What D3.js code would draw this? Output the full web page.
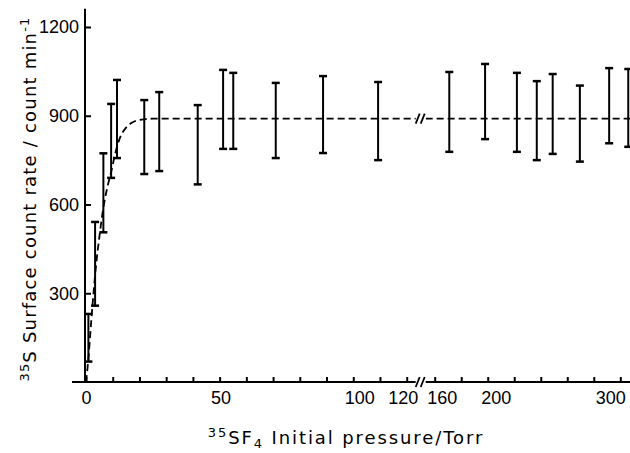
<!DOCTYPE html>
<html><head><meta charset="utf-8">
<script src="https://cdn.jsdelivr.net/npm/d3@7"></script>
<style>
body{margin:0;background:#fff}
svg{display:block}
text{fill:#000}
</style>
</head><body>
<svg id="chart" width="630" height="453"></svg>
<script>
// ---- data ----
const pressure  = [0.9, 3.4, 6.5, 9.4, 11.6, 21.8, 27.4, 41.8, 51.3, 55.1, 71, 88.7, 109.3, 171, 198, 222, 237, 249, 269.5, 291.6, 306];
const countLow  = [69, 258, 506, 690, 757, 703, 713, 668, 788, 788, 757, 774, 750, 778, 821, 778, 750, 771, 745, 807, 795];
const countHigh = [230, 541, 773, 940, 1021, 953, 980, 936, 1055, 1045, 1011, 1034, 1014, 1048, 1075, 1045, 1017, 1041, 1002, 1061, 1058];
const fitPressure = [0, 1, 1.5, 2, 3, 3.6, 5, 6, 7.1, 8.3, 9.6, 11, 12.7, 15, 17.5, 20.2, 25, 310];
const fitCount    = [0, 90, 150, 210, 320, 380, 490, 560, 620, 670, 717, 775, 825, 860, 878, 886, 890, 890];
const xTickValues = [0,10,20,30,40,50,60,70,80,90,100,110,120,160,180,200,220,240,260,280,300];
const xTickLabels = ["0","50","100","120","160","200","300"];
const yTickValues = [300,600,900,1200];
const xBreak = [120,160];

const svg = d3.select("#chart");
const W = 630;
const numFont = "'Liberation Sans', Arial, sans-serif";
const titleFont = "'DejaVu Sans', sans-serif";
const x = d3.scaleLinear().domain([0, xBreak[0], xBreak[1], 300]).range([86, 406.7, 434.7, 620.3]);
const y = d3.scaleLinear().domain([0, 1200]).range([382, 27]);
const x0 = x(0), yBase = y(0);

// hand-lettered label offsets in the original figure
const labelNudge = {50: 1, 100: 6, 120: -4, 160: 7, 200: 8, 300: -10};

// x axis
const xAxis = d3.axisBottom(x).tickValues(xTickValues).tickSize(-5).tickPadding(9)
  .tickFormat(d => xTickLabels.includes(String(d)) ? String(d) : "");
const gx = svg.append("g").attr("transform", `translate(0,${yBase})`).call(xAxis);
gx.select(".domain").remove();
gx.selectAll(".tick line").attr("stroke","#000").attr("stroke-width",2);
gx.selectAll(".tick text").style("font-size","18px").style("font-family",numFont)
  .attr("dx", d => labelNudge[d] || 0);
svg.append("line").attr("x1", x0 - 14).attr("x2", W).attr("y1", yBase).attr("y2", yBase)
  .attr("stroke","#000").attr("stroke-width",2);

// y axis
const yAxis = d3.axisLeft(y).tickValues(yTickValues).tickSize(-6).tickPadding(6).tickFormat(d3.format("d"));
const gy = svg.append("g").attr("transform", `translate(${x0 - 1},0)`).call(yAxis);
gy.select(".domain").remove();
gy.selectAll(".tick line").attr("stroke","#000").attr("stroke-width",2);
gy.selectAll(".tick text").style("font-size","18px").style("font-family",numFont);
svg.append("line").attr("x1", x0 - 1).attr("x2", x0 - 1).attr("y1", y(1262)).attr("y2", yBase + 1)
  .attr("stroke","#000").attr("stroke-width",2);

// fitted dashed curve
const fitData = fitPressure.map((p,i) => [p, fitCount[i]]);
const line = d3.line().x(d => x(d[0])).y(d => y(d[1])).curve(d3.curveMonotoneX);
svg.append("path").datum(fitData).attr("d", line).attr("fill","none")
  .attr("stroke","#000").attr("stroke-width",1.8).attr("stroke-dasharray","7,4");

// error bars
const bars = svg.append("g").attr("stroke","#000");
pressure.forEach((p,i) => {
  const cx = x(p);
  bars.append("line").attr("x1",cx).attr("x2",cx).attr("y1",y(countLow[i])).attr("y2",y(countHigh[i])).attr("stroke-width",2);
  [countLow[i], countHigh[i]].forEach(v => {
    bars.append("line").attr("x1",cx-4).attr("x2",cx+4).attr("y1",y(v)).attr("y2",y(v)).attr("stroke-width",2.5);
  });
});

// break marks
const bx = (x(xBreak[0]) + x(xBreak[1])) / 2;
function breakMark(cy){
  svg.append("rect").attr("x", bx-5).attr("y", cy-3).attr("width", 10).attr("height", 6).attr("fill","#fff");
  [-3, 2].forEach(o => {
    svg.append("line").attr("x1", bx+o-2).attr("x2", bx+o+2).attr("y1", cy+5).attr("y2", cy-5)
      .attr("stroke","#000").attr("stroke-width",1.8);
  });
}
breakMark(yBase);
breakMark(y(890));

// axis titles
const yt = svg.append("text").attr("transform", `translate(36,199) rotate(-90)`)
  .attr("text-anchor","middle").style("font-size","18px").style("font-family",titleFont)
  .style("letter-spacing","1.2px");
yt.append("tspan").text("35").style("font-size","13px").attr("dy","-7");
yt.append("tspan").text("S Surface count rate / count min").attr("dy","7");
yt.append("tspan").text("-1").style("font-size","13px").attr("dy","-7");

const xt = svg.append("text").attr("x", 346).attr("y", 444).attr("text-anchor","middle")
  .style("font-size","18px").style("font-family",titleFont).style("letter-spacing","1.9px");
xt.append("tspan").text("35").style("font-size","13px").attr("dy","-7");
xt.append("tspan").text("SF").attr("dy","7");
xt.append("tspan").text("4").style("font-size","13px").attr("dy","4");
xt.append("tspan").text(" Initial pressure/Torr").attr("dy","-4");
</script>
</body></html>
